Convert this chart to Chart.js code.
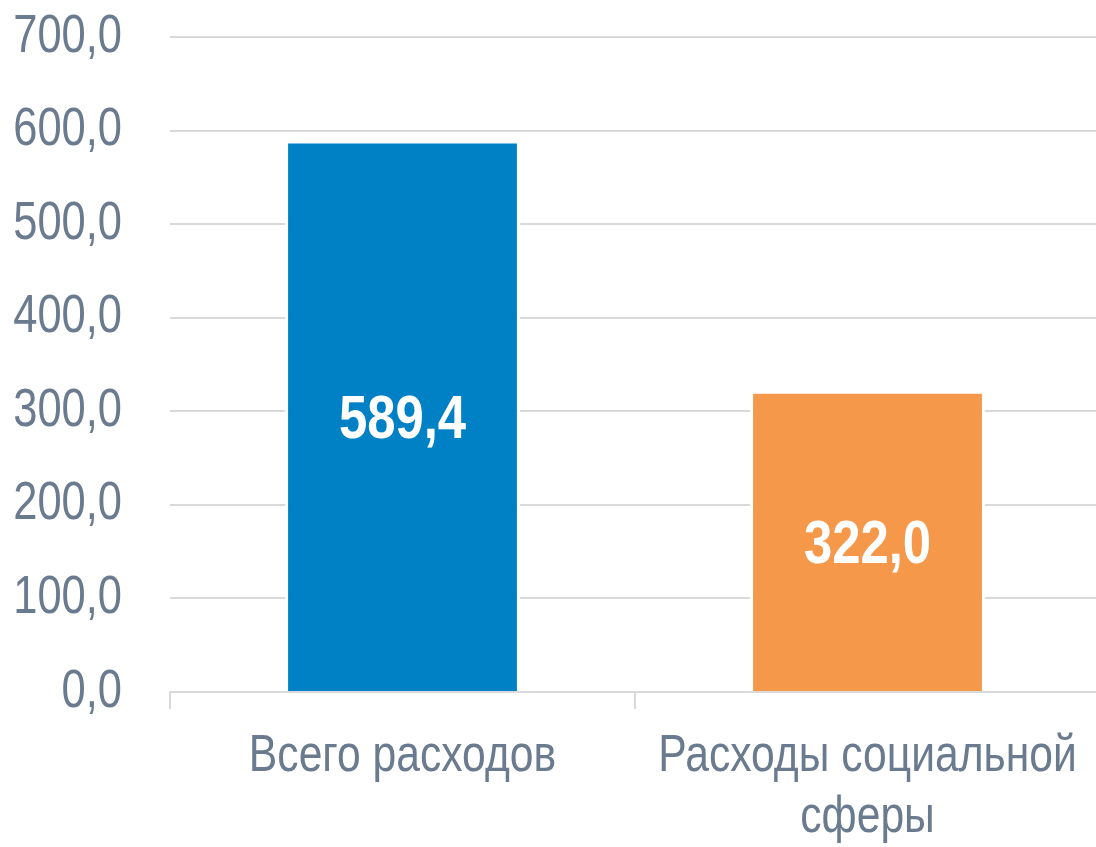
<!DOCTYPE html>
<html>
<head>
<meta charset="utf-8">
<script src="https://cdn.jsdelivr.net/npm/chart.js@4/dist/chart.umd.min.js"></script>
<style>
  html, body { margin: 0; padding: 0; background: #fff; overflow: hidden; }
  #wrap { width: 1100px; height: 847px; position: relative; }
</style>
</head>
<body>
<div id="wrap"><canvas id="chart"></canvas></div>
<script>
(function() {

// data
var categories = [
        ['Всего расходов'],
        ['Расходы социальной', 'сферы']
    ],
    values = [589.4, 322.0],
    bar_colors = ['#0081c6', '#f6984a'],
    y_ticks = [0, 100, 200, 300, 400, 500, 600, 700];

const
    fontFamily = "'Liberation Sans', Arial, sans-serif",
    narrow = 0.82,   // squeeze to look like Arial Narrow
    textColor = '#6b7b8f',
    gridColor = '#d9d9d9';

function fmt(v) {
    return v.toFixed(1).replace('.', ',');
}

// draw text horizontally condensed
function narrowText(ctx, text, x, y) {
    ctx.save();
    ctx.translate(x, y);
    ctx.scale(narrow, 1);
    ctx.fillText(text, 0, 0);
    ctx.restore();
}

// tick labels and white value labels, drawn condensed
const narrowLabels = {
    id: 'narrowLabels',
    afterDraw(chart) {
        const ctx = chart.ctx,
            xs = chart.scales.x,
            ys = chart.scales.y,
            meta = chart.getDatasetMeta(0);

        ctx.save();
        ctx.fillStyle = textColor;
        ctx.font = '53px ' + fontFamily;
        ctx.textBaseline = 'middle';

        ctx.textAlign = 'right';
        y_ticks.forEach(v => {
            narrowText(ctx, fmt(v), 170 - 48, ys.getPixelForValue(v));
        });

        ctx.font = '52px ' + fontFamily;
        ctx.textAlign = 'center';
        categories.forEach((lines, i) => {
            const x = xs.getPixelForValue(i);
            lines.forEach((line, j) => {
                narrowText(ctx, line, x, xs.top + 65 + j * 61);
            });
        });

        ctx.fillStyle = '#ffffff';
        ctx.font = 'bold 62px ' + fontFamily;
        meta.data.forEach((bar, i) => {
            narrowText(ctx, fmt(values[i]), bar.x, (bar.y + bar.base) / 2 + 5);
        });
        ctx.restore();
    }
};

const config = {
    type: 'bar',
    data: {
        labels: categories,
        datasets: [
            {
                data: values,
                backgroundColor: bar_colors,
                borderColor: '#ffffff',
                borderWidth: 3,
                categoryPercentage: 1,
                barPercentage: 0.505
            }
        ]
    },
    options: {
        responsive: true,
        maintainAspectRatio: false,
        animation: false,
        layout: {
            padding: { top: 37, right: 0, bottom: 0, left: 0 }
        },
        plugins: {
            legend: { display: false },
            tooltip: { enabled: false }
        },
        scales: {
            x: {
                grid: {
                    offset: true,
                    drawOnChartArea: false,
                    drawTicks: true,
                    tickLength: 17,
                    color: gridColor,
                    lineWidth: 2
                },
                border: { display: true, color: gridColor, width: 2 },
                ticks: { display: false, autoSkip: false },
                afterFit(scale) { scale.height = 155; }
            },
            y: {
                min: 0,
                max: 700,
                afterBuildTicks(scale) {
                    scale.ticks = y_ticks.map(v => ({ value: v }));
                },
                grid: {
                    color: gridColor,
                    lineWidth: 2,
                    drawTicks: false
                },
                border: { display: false },
                ticks: { display: false },
                afterFit(scale) { scale.width = 170; }
            }
        }
    },
    plugins: [narrowLabels]
};

new Chart(document.getElementById('chart').getContext('2d'), config);

})();
</script>
</body>
</html>
